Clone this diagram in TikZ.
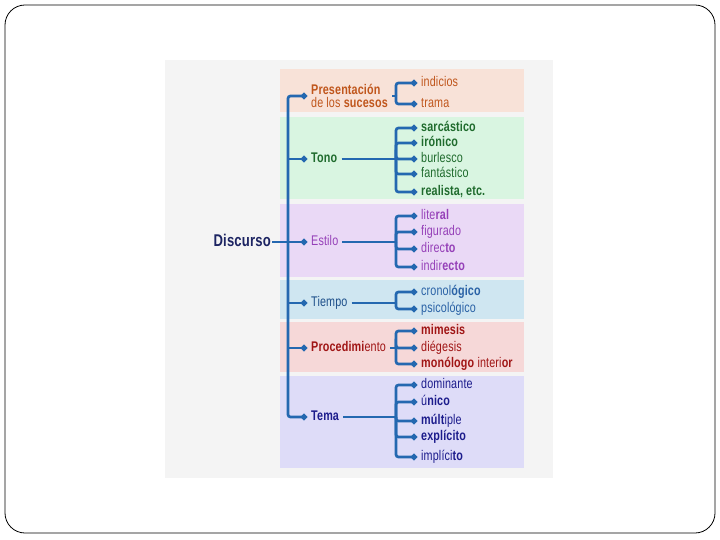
\documentclass[tikz,border=0pt]{standalone}
\usepackage{fontspec}
\setmainfont[FakeStretch=0.77,LetterSpace=1]{Liberation Sans}
\usetikzlibrary{arrows.meta}

\definecolor{panel}{HTML}{F4F4F4}
\definecolor{linkblue}{HTML}{2468B0}
\definecolor{bpres}{HTML}{F8E2D8}
\definecolor{btono}{HTML}{D9F5E1}
\definecolor{bestilo}{HTML}{EAD9F6}
\definecolor{btiempo}{HTML}{CFE6F1}
\definecolor{bproc}{HTML}{F6D8D8}
\definecolor{btema}{HTML}{DEDCF8}
\definecolor{cpres}{HTML}{C0561C}
\definecolor{ctono}{HTML}{1F6B2D}
\definecolor{cestilo}{HTML}{9540B8}
\definecolor{ctiempo}{HTML}{1D4F8A}
\definecolor{ctiempoi}{HTML}{2A62A6}
\definecolor{cproc}{HTML}{A01515}
\definecolor{ctema}{HTML}{1C1C8C}
\definecolor{cdisc}{HTML}{1C2462}

\begin{document}
\begin{tikzpicture}[x=1pt,y=-1pt,
stem/.style={draw=linkblue,line width=2.2pt,rounded corners=2.5pt},
twig/.style={stem,line width=2.7pt,-{Circle[length=6pt,width=6pt]},shorten >=3pt},
topic/.style={anchor=west,inner sep=1pt,font=\fontsize{14}{14}\selectfont},
leaf/.style={topic,text height=9pt,text depth=2.5pt}]

\useasboundingbox (0,0) rectangle (720,540);
\draw[line width=0.8pt,rounded corners=20pt] (5,5) rectangle (715,533);

% background bands
\fill[panel] (165,60) rectangle (553,478);
\fill[bpres] (280,69) rectangle (524,112);
\fill[btono] (280,117) rectangle (524,199);
\fill[bestilo] (280,204) rectangle (524,277);
\fill[btiempo] (280,280) rectangle (524,319);
\fill[bproc] (280,322) rectangle (524,372);
\fill[btema] (280,376) rectangle (524,468);

\coordinate (trunk) at (288,0);
\coordinate (fork) at (396,0);

\draw (272,242) node[anchor=east,inner sep=1pt,text height=11pt,text depth=3pt,
  font=\fontsize{17}{18}\selectfont\bfseries,text=cdisc] (Dis) {Discurso};

\draw (310,96) node[topic,align=left,text=cpres,font=\fontsize{14}{13}\selectfont] (Pres)
  {\textbf{Presentación}\\de los \textbf{sucesos}};
\draw (310,159) node[leaf,text=ctono] (Tono) {\textbf{Tono}};
\draw (310,242) node[leaf,text=cestilo] (Estilo) {Estilo};
\draw (310,303) node[leaf,text=ctiempo] (Tiempo) {Tiempo};
\draw (310,348) node[leaf,text=cproc] (Proc) {\textbf{Procedimi}ento};
\draw (310,417) node[leaf,text=ctema] (Tema) {\textbf{Tema}};

% items
\draw (420,83) node[leaf,text=cpres] (P1) {indicios};
\draw (420,104) node[leaf,text=cpres] (P2) {trama};

\draw (420,128) node[leaf,text=ctono] (T1) {\textbf{sarcástico}};
\draw (420,143) node[leaf,text=ctono] (T2) {\textbf{irónico}};
\draw (420,159) node[leaf,text=ctono] (T3) {burlesco};
\draw (420,174) node[leaf,text=ctono] (T4) {fantástico};
\draw (420,192) node[leaf,text=ctono] (T5) {\textbf{realista, etc.}};

\draw (420,216) node[leaf,text=cestilo] (E1) {lite\textbf{ral}};
\draw (420,232) node[leaf,text=cestilo] (E2) {figurado};
\draw (420,249) node[leaf,text=cestilo] (E3) {direc\textbf{to}};
\draw (420,267) node[leaf,text=cestilo] (E4) {indir\textbf{ecto}};

\draw (420,292) node[leaf,text=ctiempoi] (C1) {cronol\textbf{ógico}};
\draw (420,309) node[leaf,text=ctiempoi] (C2) {psicológico};

\draw (420,331) node[leaf,text=cproc] (R1) {\textbf{mimesis}};
\draw (420,348) node[leaf,text=cproc] (R2) {diégesis};
\draw (420,364) node[leaf,text=cproc] (R3) {\textbf{monólogo} interi\textbf{or}};

\draw (420,385) node[leaf,text=ctema] (M1) {dominante};
\draw (420,402) node[leaf,text=ctema] (M2) {ú\textbf{nico}};
\draw (420,421) node[leaf,text=ctema] (M3) {\textbf{múlt}iple};
\draw (420,437) node[leaf,text=ctema] (M4) {\textbf{explícito}};
\draw (420,457) node[leaf,text=ctema] (M5) {implíci\textbf{to}};

% main trunk
\draw[twig] (Dis.east) -- (Estilo.west);
\draw[twig] (Dis.east -| trunk) |- (Pres.west);
\draw[twig] (Dis.east -| trunk) |- (Tema.west);
\foreach \c in {Tono,Tiempo,Proc}
  \draw[twig] (\c.west -| trunk) -- (\c.west);

% sub branches
\foreach \c/\list in {Pres/{P1,P2},Tono/{T1,T2,T3,T4,T5},Estilo/{E1,E2,E3,E4},
                      Tiempo/{C1,C2},Proc/{R1,R2,R3},Tema/{M1,M2,M3,M4,M5}} {
  \draw[stem,shorten <=3pt] (\c.east) -- (\c.east -| fork);
  \foreach \i in \list
    \draw[twig] (\c.east -| fork) |- (\i.west);
}

\end{tikzpicture}
\end{document}
